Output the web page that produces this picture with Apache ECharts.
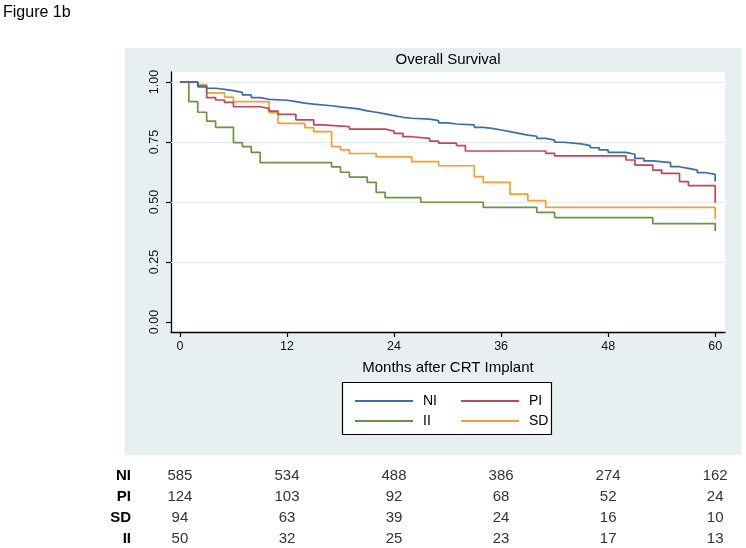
<!DOCTYPE html>
<html>
<head>
<meta charset="utf-8">
<script src="https://cdn.jsdelivr.net/npm/echarts@6/dist/echarts.min.js"></script>
<style>
html, body { margin: 0; padding: 0; background: #fff; }
#main { width: 746px; height: 548px; }
</style>
</head>
<body>
<div id="main"></div>
<script>
// Kaplan-Meier steps: time (months) and survival after that time
var tNI = [0,2,3,4,5,6,7,8,9,10,12,13,14,15,17,18,20,21,22,23,24,25,26,28,29,30,31,33,34,35,36,37,38,39,40,41,42,43,45,46,47,48,50,51,52,53,55,56,57,58,59,60];
var sNI = [1,0.983,0.974,0.969,0.964,0.957,0.946,0.935,0.928,0.924,0.918,0.912,0.908,0.901,0.896,0.888,0.880,0.874,0.867,0.860,0.853,0.849,0.845,0.839,0.830,0.825,0.821,0.811,0.807,0.800,0.793,0.786,0.779,0.774,0.765,0.758,0.749,0.742,0.735,0.726,0.717,0.707,0.699,0.682,0.671,0.664,0.647,0.640,0.633,0.622,0.615,0.585];

var tPI = [0,2,3,4,5,6,9,10,11,13,15,16,19,23,24,25,26,28,29,31,32,41,42,50,51,53,54,56,57,60];
var sPI = [1,0.98,0.935,0.925,0.915,0.897,0.89,0.879,0.865,0.842,0.821,0.814,0.804,0.796,0.786,0.772,0.765,0.754,0.745,0.735,0.7125,0.703,0.692,0.675,0.654,0.633,0.619,0.585,0.568,0.497];

var tSD = [0,2,3,5,6,10,11,14,15,17,18,19,22,26,29,33,34,37,39,41,60];
var sSD = [1,0.989,0.955,0.937,0.918,0.872,0.828,0.81,0.793,0.731,0.717,0.702,0.688,0.668,0.651,0.606,0.582,0.533,0.506,0.478,0.43];

var tII = [0,1,2,3,4,6,7,8,9,17,18,19,21,22,23,27,34,40,42,53,60];
var sII = [1,0.918,0.874,0.837,0.811,0.747,0.731,0.707,0.664,0.646,0.624,0.604,0.582,0.540,0.518,0.499,0.478,0.457,0.435,0.410,0.379];

// number at risk table
var riskTimes = [0, 12, 24, 36, 48, 60];
var riskRows = ['NI', 'PI', 'SD', 'II'];
var riskNI = [585, 534, 488, 386, 274, 162];
var riskPI = [124, 103, 92, 68, 52, 24];
var riskSD = [94, 63, 39, 24, 16, 10];
var riskII = [50, 32, 25, 23, 17, 13];

var yTicks = [0, 0.25, 0.5, 0.75, 1];

var FONT = 'Liberation Sans, Arial, sans-serif';
var colors = { NI: '#3a6ea5', PI: '#b84a5c', SD: '#f2a036', II: '#6a9443' };

function zip(t, s) {
    var out = [];
    for (var i = 0; i < t.length; i++) out.push([t[i], s[i]]);
    return out;
}

function kmSeries(name, t, s, z) {
    return {
        name: name,
        type: 'line',
        step: 'end',
        symbol: 'none',
        z: z,
        data: zip(t, s),
        lineStyle: { color: colors[name], width: 1.7 },
        itemStyle: { color: colors[name] }
    };
}

var dom = document.getElementById('main');
var myChart = echarts.init(dom, null, { renderer: 'canvas' });

var legendBase = {
    orient: 'vertical',
    top: 389,
    icon: 'rect',
    itemWidth: 58,
    itemHeight: 2,
    itemGap: 6,
    selectedMode: false,
    textStyle: { fontFamily: FONT, fontSize: 14, color: '#000', padding: [0, 0, 0, 5] }
};

var option = {
    animation: false,
    backgroundColor: '#fff',
    grid: {
        left: 171, right: 21, top: 72, bottom: 216,
        show: true, backgroundColor: '#fff', borderWidth: 0
    },
    legend: [
        Object.assign({}, legendBase, { left: 350, data: ['NI', 'II'] }),
        Object.assign({}, legendBase, { left: 456, data: ['PI', 'SD'] })
    ],
    xAxis: {
        type: 'value',
        min: -1,
        max: 61.1,
        name: 'Months after CRT Implant',
        nameLocation: 'middle',
        nameGap: 28,
        nameTextStyle: { fontFamily: FONT, fontSize: 15, color: '#000' },
        axisLine: { onZero: false, lineStyle: { color: '#000', width: 1.3 } },
        axisTick: { customValues: riskTimes, length: 5, lineStyle: { color: '#000', width: 1.2 } },
        axisLabel: { customValues: riskTimes, fontFamily: FONT, fontSize: 12.5, color: '#111', margin: 8 },
        splitLine: { show: false }
    },
    yAxis: {
        type: 'value',
        min: -0.0417,
        max: 1.0417,
        axisLine: { show: true, onZero: false, lineStyle: { color: '#000', width: 1.3 } },
        axisTick: { show: true, customValues: yTicks, length: 5, lineStyle: { color: '#000', width: 1.2 } },
        axisLabel: {
            customValues: yTicks, rotate: 90, margin: 10,
            fontFamily: FONT, fontSize: 12.5, color: '#111',
            formatter: function (v) { return v.toFixed(2); }
        },
        splitLine: { show: false }
    },
    series: [
        {
            name: 'grid',
            type: 'line',
            data: [],
            z: 1,
            silent: true,
            markLine: {
                z: 1,
                silent: true,
                symbol: 'none',
                label: { show: false },
                lineStyle: { color: '#e3ecee', type: 'solid', width: 1.2 },
                data: [{ yAxis: 0.25 }, { yAxis: 0.5 }, { yAxis: 0.75 }, { yAxis: 1 }]
            }
        },
        kmSeries('II', tII, sII, 2),
        kmSeries('SD', tSD, sSD, 3),
        kmSeries('PI', tPI, sPI, 4),
        kmSeries('NI', tNI, sNI, 5)
    ]
};

if (option && typeof option === 'object') {
    myChart.setOption(option);
}

// panel, title, legend box and the number-at-risk table
var riskData = { NI: riskNI, PI: riskPI, SD: riskSD, II: riskII };
var rowY = [476, 497, 518, 539];
var graphics = [
    { type: 'rect', z: -10, silent: true, shape: { x: 125, y: 48, width: 616, height: 407 }, style: { fill: '#e7eff1' } },
    { type: 'rect', z: 3, silent: true, shape: { x: 342.5, y: 382.5, width: 209, height: 52 }, style: { fill: '#fff', stroke: '#000', lineWidth: 1.2 } },
    { type: 'text', x: 448, y: 60, style: { text: 'Overall Survival', font: '15px ' + FONT, fill: '#000', align: 'center', verticalAlign: 'middle' } },
    { type: 'text', x: 3, y: 13, style: { text: 'Figure 1b', font: '16px ' + FONT, fill: '#000', align: 'left', verticalAlign: 'middle' } }
];
riskRows.forEach(function (row, r) {
    graphics.push({ type: 'text', x: 131, y: rowY[r], style: { text: row, font: 'bold 15px ' + FONT, fill: '#000', align: 'right', verticalAlign: 'middle' } });
    riskTimes.forEach(function (t, c) {
        var px = myChart.convertToPixel({ xAxisIndex: 0 }, t);
        graphics.push({ type: 'text', x: px, y: rowY[r], style: { text: String(riskData[row][c]), font: '15px ' + FONT, fill: '#333', align: 'center', verticalAlign: 'middle' } });
    });
});
myChart.setOption({ graphic: graphics });
</script>
</body>
</html>
